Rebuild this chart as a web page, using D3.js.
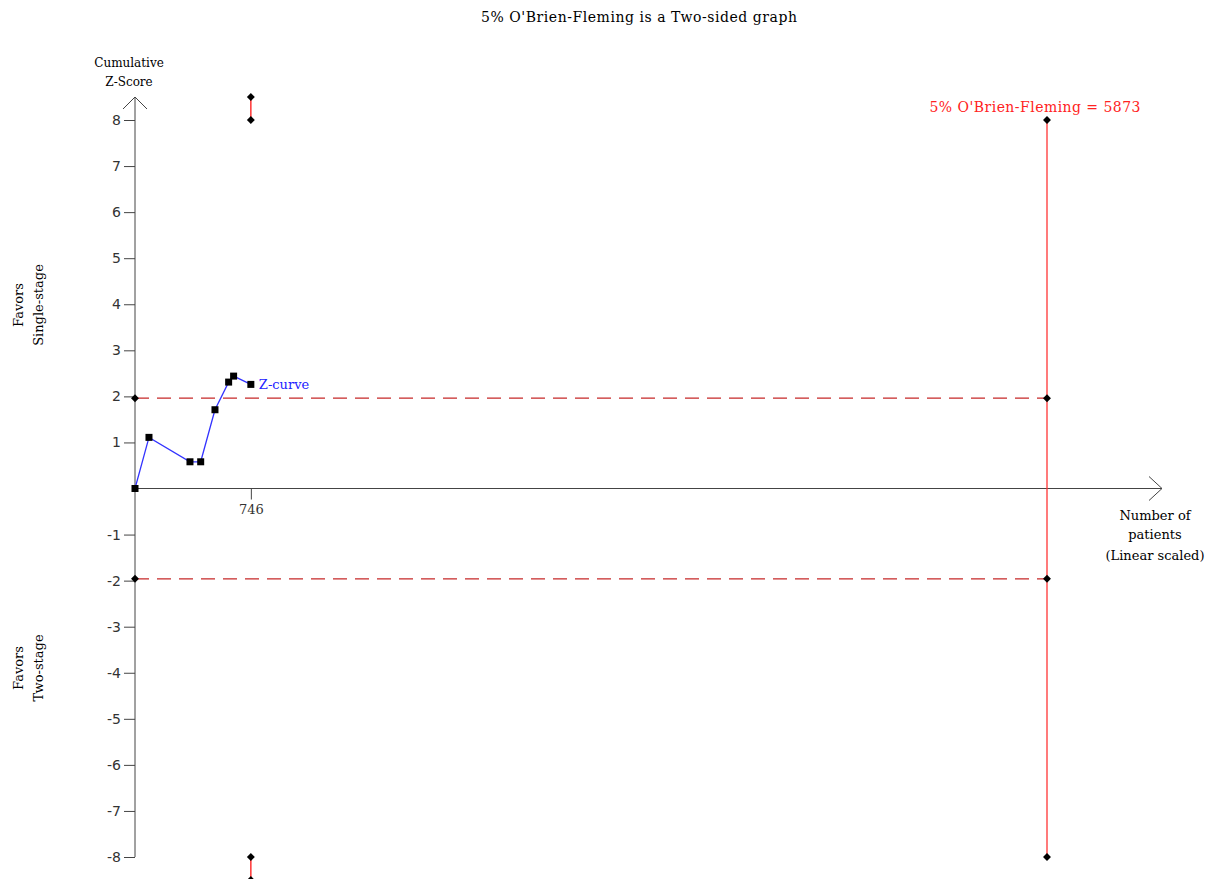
<!DOCTYPE html>
<meta charset="utf-8">
<style>
body { margin: 0; background: #fff; }
text { font-family: "DejaVu Serif", serif; font-size: 13px; }
.tick text { font-family: "DejaVu Sans", sans-serif; font-size: 14px; fill: #333; }
.tick line { stroke: #444; }
</style>
<script src="https://d3js.org/d3.v7.min.js"></script>
<div id="chart"></div>
<script>
// patients (cumulative) and cumulative z-scores
var zPatients = [0, 90, 354, 423, 515, 603, 635, 746];
var zScores = [0, 1.11, 0.58, 0.58, 1.71, 2.31, 2.44, 2.26];
var boundaryInfo = [746, 746];
var boundaryUpper = [8.5, 8];
var boundaryLower = [-8.5, -8];
var requiredSize = 5873;
var conventional = [1.96, -1.96];
var yTicks = [-8, -7, -6, -5, -4, -3, -2, -1, 1, 2, 3, 4, 5, 6, 7, 8];
var xTicks = [746];

var width = 1210, height = 879;
var svg = d3.select("#chart").append("svg")
    .attr("width", width)
    .attr("height", height);

var x = d3.scaleLinear().domain([0, requiredSize]).range([135, 1047]);
var y = d3.scaleLinear().domain([-8, 8]).range([857, 120]);

// title
svg.append("text")
    .attr("x", 639).attr("y", 22)
    .attr("text-anchor", "middle")
    .style("font-size", "14px")
    .attr("textLength", 316)
    .text("5% O'Brien-Fleming is a Two-sided graph");

// y axis
var yAxis = svg.append("g")
    .attr("transform", "translate(" + x(0) + ",0)")
    .call(d3.axisLeft(y).tickValues(yTicks).tickSize(11).tickPadding(3)
      .tickFormat(function(d) { return d < 0 ? "-" + (-d) : d; }));
yAxis.select(".domain").remove();

svg.append("line")
    .attr("x1", x(0)).attr("x2", x(0))
    .attr("y1", 97).attr("y2", y(-8))
    .attr("stroke", "#444");
svg.append("path")
    .attr("d", "M" + (x(0) - 12) + ",109L" + x(0) + ",97L" + (x(0) + 12) + ",109")
    .attr("fill", "none").attr("stroke", "#444");

// x axis
var xAxis = svg.append("g")
    .attr("transform", "translate(0," + y(0) + ")")
    .call(d3.axisBottom(x).tickValues(xTicks).tickSize(11).tickPadding(5)
      .tickFormat(d3.format("d")));
xAxis.select(".domain").remove();
xAxis.selectAll(".tick text").style("font-family", "DejaVu Serif, serif").style("font-size", "13px");

svg.append("line")
    .attr("x1", x(0)).attr("x2", 1162)
    .attr("y1", y(0)).attr("y2", y(0))
    .attr("stroke", "#444");
svg.append("path")
    .attr("d", "M1149," + (y(0) - 12) + "L1162," + y(0) + "L1149," + (y(0) + 12))
    .attr("fill", "none").attr("stroke", "#444");

// axis titles
var yTitle = svg.append("text").attr("text-anchor", "middle").style("font-size", "12px");
yTitle.append("tspan").attr("x", 129).attr("y", 67).text("Cumulative");
yTitle.append("tspan").attr("x", 129).attr("y", 86).text("Z-Score");

var xTitle = svg.append("text").attr("text-anchor", "middle").style("font-size", "13px");
xTitle.append("tspan").attr("x", 1155).attr("y", 520).text("Number of");
xTitle.append("tspan").attr("x", 1155).attr("y", 539).text("patients");
xTitle.append("tspan").attr("x", 1155).attr("y", 560).text("(Linear scaled)");

function sideLabel(cy, l2) {
  var t = svg.append("text")
      .attr("transform", "translate(0," + cy + ") rotate(-90)")
      .attr("text-anchor", "middle")
      .style("font-size", "13px");
  t.append("tspan").attr("x", 0).attr("y", 23).text("Favors");
  t.append("tspan").attr("x", 0).attr("y", 43).text(l2);
}
sideLabel(305, "Single-stage");
sideLabel(668, "Two-stage");

// conventional boundaries
conventional.forEach(function(v) {
  svg.append("line")
      .attr("x1", x(0)).attr("x2", x(requiredSize))
      .attr("y1", y(v)).attr("y2", y(v))
      .attr("stroke", "#c62828")
      .attr("stroke-width", 1.2)
      .attr("stroke-dasharray", "14,8");
});

// required information size line
svg.append("line")
    .attr("x1", x(requiredSize)).attr("x2", x(requiredSize))
    .attr("y1", y(8)).attr("y2", y(-8))
    .attr("stroke", "#ff3333").attr("stroke-width", 1.3);

svg.append("text")
    .attr("x", 1035).attr("y", 112)
    .attr("text-anchor", "middle")
    .attr("fill", "#ff2222")
    .style("font-size", "14px")
    .attr("textLength", 211)
    .text("5% O'Brien-Fleming = " + requiredSize);

// O'Brien-Fleming boundary segments at interim
svg.append("line")
    .attr("x1", x(boundaryInfo[0])).attr("x2", x(boundaryInfo[1]))
    .attr("y1", y(boundaryUpper[0])).attr("y2", y(boundaryUpper[1]))
    .attr("stroke", "#ff3333").attr("stroke-width", 1.5);
svg.append("line")
    .attr("x1", x(boundaryInfo[0])).attr("x2", x(boundaryInfo[1]))
    .attr("y1", y(boundaryLower[0])).attr("y2", y(boundaryLower[1]))
    .attr("stroke", "#ff3333").attr("stroke-width", 1.5);

var diamonds = [];
boundaryInfo.forEach(function(p, i) {
  diamonds.push([p, boundaryUpper[i]]);
  diamonds.push([p, boundaryLower[i]]);
});
conventional.forEach(function(v) {
  diamonds.push([0, v]);
  diamonds.push([requiredSize, v]);
});
diamonds.push([requiredSize, 8]);
diamonds.push([requiredSize, -8]);

svg.selectAll(".dia")
    .data(diamonds)
  .enter().append("path")
    .attr("class", "dia")
    .attr("d", d3.symbol(d3.symbolDiamond2, 40))
    .attr("transform", function(d) { return "translate(" + x(d[0]) + "," + y(d[1]) + ")"; })
    .attr("fill", "#000");

// z-curve
var zData = zPatients.map(function(p, i) { return [p, zScores[i]]; });
svg.append("path")
    .datum(zData)
    .attr("d", d3.line().x(function(d) { return x(d[0]); }).y(function(d) { return y(d[1]); }))
    .attr("fill", "none")
    .attr("stroke", "#3333ff")
    .attr("stroke-width", 1.3);

svg.selectAll(".zpt")
    .data(zData)
  .enter().append("rect")
    .attr("class", "zpt")
    .attr("x", function(d) { return x(d[0]) - 3.5; })
    .attr("y", function(d) { return y(d[1]) - 3.5; })
    .attr("width", 7).attr("height", 7)
    .attr("fill", "#000");

svg.append("text")
    .attr("x", x(zPatients[zPatients.length - 1]) + 8)
    .attr("y", y(zScores[zScores.length - 1]) + 5)
    .attr("fill", "#2222ff")
    .text("Z-curve");
</script>
